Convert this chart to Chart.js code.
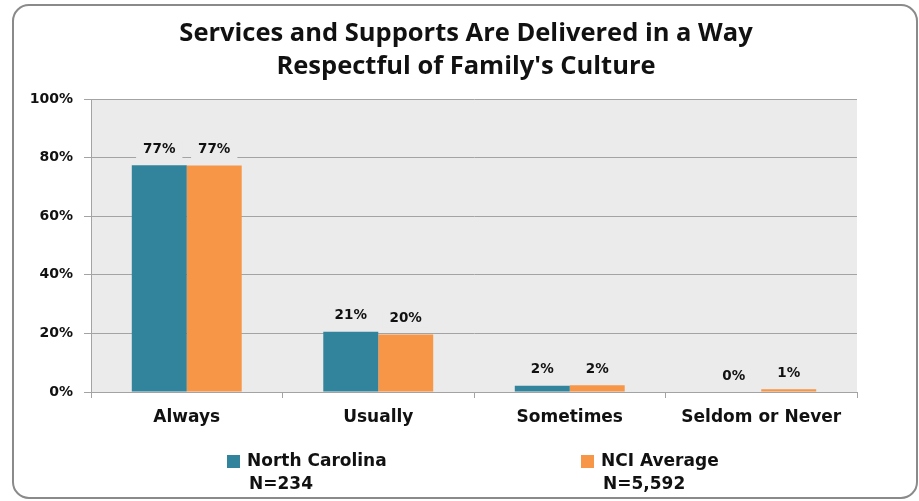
<!DOCTYPE html>
<html>
<head>
<meta charset="utf-8">
<script src="https://cdn.jsdelivr.net/npm/chart.js@4/dist/chart.umd.min.js"></script>
<style>
html,body{margin:0;padding:0;background:#fff;overflow:hidden;}
#wrap{position:relative;width:919px;height:501px;}
</style>
</head>
<body>
<div id="wrap"><canvas id="c" width="919" height="501"></canvas></div>
<script>
const titleLines = ["Services and Supports Are Delivered in a Way", "Respectful of Family's Culture"];
const categories = ["Always", "Usually", "Sometimes", "Seldom or Never"];
const seriesNames = ["North Carolina", "NCI Average"];
const seriesN = ["N=234", "N=5,592"];
const ncValues = [77.4, 20.6, 2.1, 0];
const nciValues = [77.3, 19.6, 2.3, 0.9];
const yTicks = [0, 20, 40, 60, 80, 100];
const colors = ["#31849b", "#f79646"];

const PLOT_BG = "#ebebeb";
const GRID = "#a3a3a3";

const framePlugin = {
  id: "frame",
  beforeDraw(chart) {
    const ctx = chart.ctx;
    const a = chart.chartArea;
    ctx.save();
    ctx.fillStyle = "#fff";
    ctx.fillRect(0, 0, chart.width, chart.height);
    const x = 13, y = 5, w = 904, h = 493, r = 16;
    ctx.beginPath();
    ctx.moveTo(x + r, y);
    ctx.arcTo(x + w, y, x + w, y + h, r);
    ctx.arcTo(x + w, y + h, x, y + h, r);
    ctx.arcTo(x, y + h, x, y, r);
    ctx.arcTo(x, y, x + w, y, r);
    ctx.closePath();
    ctx.lineWidth = 2;
    ctx.strokeStyle = "#8a8a8a";
    ctx.stroke();
    ctx.fillStyle = PLOT_BG;
    ctx.fillRect(a.left, a.top, a.right - a.left, a.bottom - a.top);
    ctx.restore();
  },
  afterDraw(chart) {
    const ctx = chart.ctx;
    ctx.save();
    ctx.fillStyle = "#111";
    ctx.font = "bold 25.5px 'Open Sans'";
    ctx.textAlign = "center";
    ctx.textBaseline = "middle";
    const cx = 466;
    titleLines.forEach((t, i) => ctx.fillText(t, cx, 34 + i * 33));
    const items = [{sx: 227, tx: 247}, {sx: 581, tx: 601}];
    ctx.font = "bold 17px 'DejaVu Sans'";
    ctx.textAlign = "left";
    items.forEach((it, i) => {
      ctx.fillStyle = colors[i];
      ctx.fillRect(it.sx, 455, 13, 13);
      ctx.fillStyle = "#111";
      ctx.fillText(seriesNames[i], it.tx, 462);
      ctx.fillText(seriesN[i], it.tx + 2, 485);
    });
    ctx.restore();
  }
};

const labelPlugin = {
  id: "barLabels",
  afterDatasetsDraw(chart) {
    const ctx = chart.ctx;
    ctx.save();
    ctx.font = "bold 13.5px 'DejaVu Sans'";
    ctx.textAlign = "center";
    ctx.textBaseline = "middle";
    chart.data.datasets.forEach((ds, di) => {
      const meta = chart.getDatasetMeta(di);
      meta.data.forEach((bar, i) => {
        const txt = Math.round(ds.data[i]) + "%";
        const y = bar.y - 16;
        const w = ctx.measureText(txt).width + 14;
        ctx.fillStyle = PLOT_BG;
        ctx.fillRect(bar.x - w / 2, y - 9, w, 18);
        ctx.fillStyle = "#111";
        ctx.fillText(txt, bar.x, y);
      });
    });
    ctx.restore();
  }
};

new Chart(document.getElementById("c"), {
  type: "bar",
  data: {
    labels: categories,
    datasets: [
      {label: seriesNames[0], data: ncValues, backgroundColor: colors[0], borderWidth: 0},
      {label: seriesNames[1], data: nciValues, backgroundColor: colors[1], borderWidth: 0}
    ]
  },
  options: {
    responsive: false,
    animation: false,
    events: [],
    layout: {padding: {top: 99, right: 62, left: 0, bottom: 0}},
    datasets: {bar: {categoryPercentage: 0.574, barPercentage: 1}},
    plugins: {legend: {display: false}, title: {display: false}, tooltip: {enabled: false}},
    scales: {
      x: {
        afterFit(s) { s.height = 109; },
        grid: {offset: true, drawOnChartArea: false, drawTicks: true, tickLength: 6, color: GRID},
        border: {display: true, color: GRID, width: 1},
        ticks: {color: "#111", font: {family: "DejaVu Sans", size: 17, weight: "bold"}, padding: 9}
      },
      y: {
        min: 0, max: 100,
        afterFit(s) { s.width = 91; },
        afterBuildTicks(s) { s.ticks = yTicks.map(v => ({value: v})); },
        grid: {color: GRID, tickLength: 7, drawTicks: true},
        border: {display: true, color: GRID},
        ticks: {color: "#111", font: {family: "DejaVu Sans", size: 14, weight: "bold"}, padding: 11,
                callback: v => v + "%"}
      }
    }
  },
  plugins: [framePlugin, labelPlugin]
});
</script>
</body>
</html>
